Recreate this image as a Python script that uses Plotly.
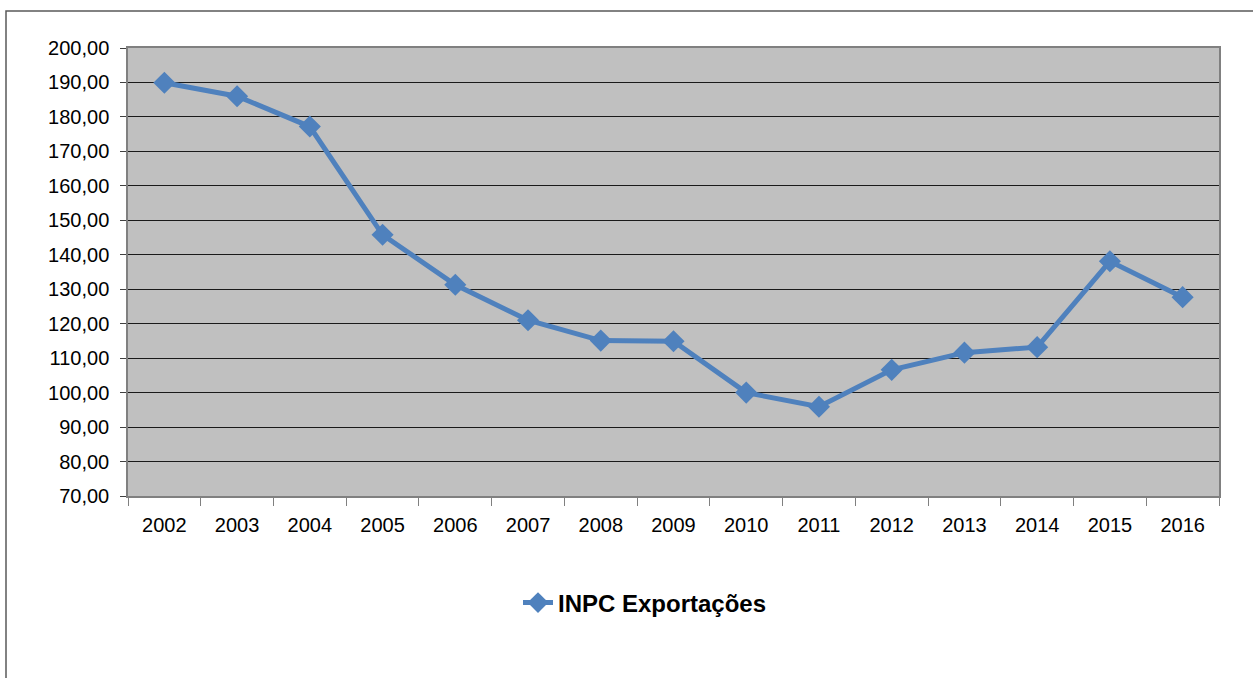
import plotly.graph_objects as go

years = ["2002", "2003", "2004", "2005", "2006", "2007", "2008", "2009",
         "2010", "2011", "2012", "2013", "2014", "2015", "2016"]
inpc_exportacoes = [189.9, 186.0, 177.2, 145.8, 131.3, 121.0, 115.1, 114.9,
                    100.0, 95.9, 106.6, 111.6, 113.2, 138.1, 127.7]
series_name = "INPC Exportações"
y_ticks = [70, 80, 90, 100, 110, 120, 130, 140, 150, 160, 170, 180, 190, 200]

fig = go.Figure()
fig.add_trace(go.Scatter(
    x=years, y=inpc_exportacoes, name=series_name, mode="lines+markers",
    line=dict(color="#4F81BD", width=5),
    marker=dict(symbol="diamond", size=17, color="#4F81BD"),
))

L, R, T, B = 128, 34, 48, 182
W, H = 1253, 678
pw, ph = W - L - R, H - T - B

fig.update_layout(
    width=W, height=H,
    margin=dict(l=L, r=R, t=T, b=B, pad=0),
    paper_bgcolor="white",
    plot_bgcolor="#C0C0C0",
    separators=",.",
    font=dict(family="Liberation Sans, Arial, sans-serif", size=20, color="black"),
    showlegend=True,
    legend=dict(
        orientation="h", x=(518 - L) / pw, xanchor="left",
        y=(H - B - 603) / ph, yanchor="middle",
        font=dict(size=24, family="Liberation Sans, Arial, sans-serif", color="black", weight="bold"),
        bgcolor="rgba(0,0,0,0)",
    ),
    shapes=[dict(
        type="rect", xref="paper", yref="paper",
        x0=(6 - L) / pw, x1=(1300 - L) / pw,
        y0=(H - B - 720) / ph, y1=(H - B - 11) / ph,
        line=dict(color="#595959", width=1.5), fillcolor="rgba(0,0,0,0)",
        layer="below",
    )],
)

fig.update_xaxes(
    type="category", tickson="boundaries", range=[-0.5, len(years) - 0.5],
    showline=True, linecolor="#808080", linewidth=1.5, mirror=True,
    ticks="outside", ticklen=8, tickcolor="#808080", tickwidth=1,
    showgrid=False, ticklabelstandoff=10,
    tickfont=dict(size=20),
)
fig.update_yaxes(
    range=[70, 200], tickvals=y_ticks, tickformat=".2f",
    showline=True, linecolor="#808080", linewidth=1.5, mirror=True,
    ticks="outside", ticklen=6, tickcolor="#404040", tickwidth=1,
    showgrid=True, gridcolor="#1a1a1a", gridwidth=1,
    zeroline=False, ticklabelstandoff=7,
    tickfont=dict(size=20),
)

fig.write_html(
    "out.html",
    config={"displayModeBar": False},
    post_script="document.body.style.margin='0';document.body.style.overflow='hidden';",
)
